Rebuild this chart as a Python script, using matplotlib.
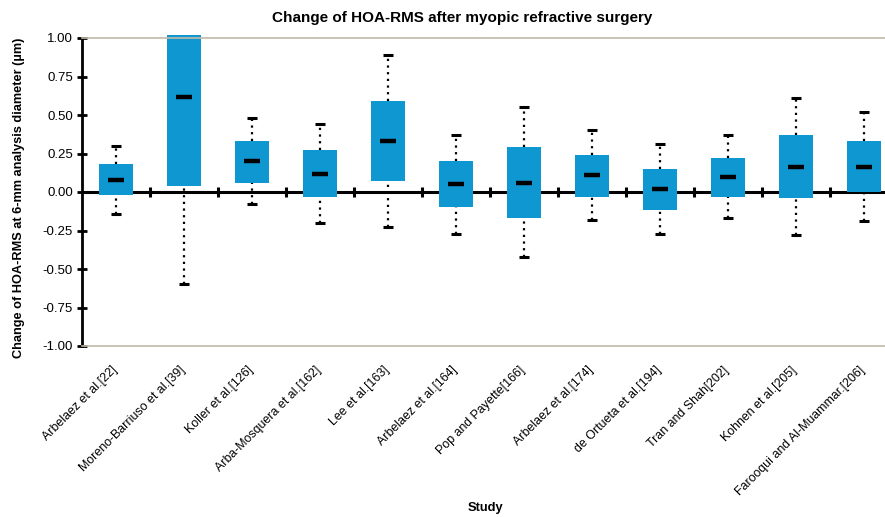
import matplotlib
matplotlib.use("Agg")
import matplotlib.pyplot as plt
from matplotlib.transforms import ScaledTranslation
import numpy as np

plt.rcParams['font.family'] = ['Liberation Sans', 'DejaVu Sans']

studies = [
    "Arbelaez et al.[22]",
    "Moreno-Barriuso et al.[39]",
    "Koller et al.[126]",
    "Arba-Mosquera et al.[162]",
    "Lee et al.[163]",
    "Arbelaez et al.[164]",
    "Pop and Payette[166]",
    "Arbelaez et al.[174]",
    "de Ortueta et al.[194]",
    "Tran and Shah[202]",
    "Kohnen et al.[205]",
    "Farooqui and Al-Muammar.[206]",
]
minimum = [-0.14, -0.60, -0.08, -0.20, -0.23, -0.27, -0.42, -0.18, -0.27, -0.17, -0.28, -0.19]
q1 = [-0.02, 0.04, 0.06, -0.03, 0.07, -0.10, -0.17, -0.03, -0.12, -0.03, -0.04, 0.00]
median = [0.08, 0.62, 0.20, 0.12, 0.33, 0.05, 0.06, 0.11, 0.02, 0.10, 0.16, 0.16]
q3 = [0.18, 1.02, 0.33, 0.27, 0.59, 0.20, 0.29, 0.24, 0.15, 0.22, 0.37, 0.33]
maximum = [0.30, 1.02, 0.48, 0.44, 0.89, 0.37, 0.55, 0.40, 0.31, 0.37, 0.61, 0.52]
yticks = [-1.00, -0.75, -0.50, -0.25, 0.00, 0.25, 0.50, 0.75, 1.00]

fig = plt.figure(figsize=(8.85, 5.17), dpi=100)
ax = fig.add_axes([82 / 885, 1 - 346 / 517, 1 - 82 / 885, 308 / 517])

x = np.arange(len(studies))
box_w = 0.5
blue = '#0f97d2'

# zero line behind the boxes
ax.axhline(0, color='black', lw=2.2, zorder=1)
# category separators on the zero line
for s in x[:-1] + 0.5:
    ax.plot([s, s], [-0.03, 0.03], color='black', lw=2.2, zorder=1,
            solid_capstyle='butt')

# boxes (interquartile range)
ax.bar(x, np.array(q3) - np.array(q1), bottom=q1, width=box_w,
       color=blue, edgecolor='none', zorder=2, clip_on=False)

# whiskers (dotted) and caps
dots = (0, (1, 2))
for xi, lo, a, b, hi in zip(x, minimum, q1, q3, maximum):
    if hi > b:
        ax.plot([xi, xi], [b, hi], color='black', lw=1.6,
                linestyle=dots, zorder=3)
        ax.plot([xi - 0.07, xi + 0.07], [hi, hi], color='black', lw=2.2,
                solid_capstyle='butt', zorder=3)
    if lo < a:
        ax.plot([xi, xi], [lo, a], color='black', lw=1.6,
                linestyle=dots, zorder=3)
        ax.plot([xi - 0.07, xi + 0.07], [lo, lo], color='black', lw=2.2,
                solid_capstyle='butt', zorder=3)

# medians
ax.hlines(median, x - 0.12, x + 0.12, color='black', lw=3.2, zorder=4)

ax.set_xlim(-0.5, 11.31)
ax.set_ylim(-1.0, 1.0)
ax.set_yticks(yticks)
ax.set_yticklabels([f"{v:.2f}" for v in yticks], fontsize=9.5)
ax.tick_params(axis='y', direction='inout', length=7, width=2, pad=3)

ax.set_xticks(x)
ax.set_xticklabels(studies, rotation=45, ha='right', rotation_mode='anchor',
                   fontsize=8.9)
ax.tick_params(axis='x', length=0, pad=13)
shift = ScaledTranslation(-5 / 100, 0, fig.dpi_scale_trans)
for lab in ax.get_xticklabels():
    lab.set_transform(lab.get_transform() + shift)

ax.spines['left'].set_linewidth(2)
ax.spines['left'].set_color('black')
ax.spines['right'].set_visible(False)
for side in ('top', 'bottom'):
    ax.spines[side].set_color('#c2baa9')
    ax.spines[side].set_linewidth(1.2)

fig.text(462 / 885, 1 - 18 / 517, "Change of HOA-RMS after myopic refractive surgery",
         ha='center', va='center', fontsize=11, fontweight='bold')
fig.text(19 / 885, 1 - 198 / 517, "Change of HOA-RMS at 6-mm analysis diameter (\u00b5m)",
         ha='center', va='center', rotation=90, fontsize=9.2, fontweight='bold')
fig.text(485 / 885, 1 - 508 / 517, "Study", ha='center', va='center',
         fontsize=9.3, fontweight='bold')

fig.savefig("out.png", dpi=100)
